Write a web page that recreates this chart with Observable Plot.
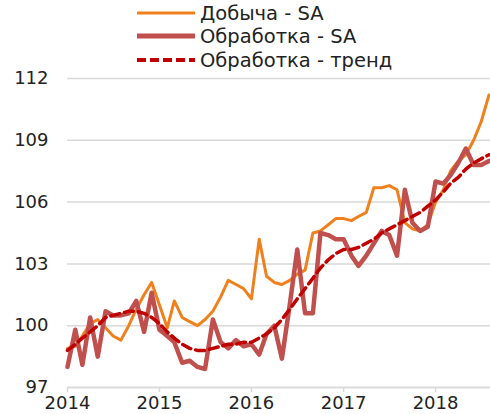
<!DOCTYPE html>
<html><head><meta charset="utf-8">
<script src="https://cdn.jsdelivr.net/npm/d3@7"></script>
<script src="https://cdn.jsdelivr.net/npm/@observablehq/plot@0.6"></script>
<style>
body{margin:0;background:#fff;font-family:"DejaVu Sans",sans-serif;}
#legend{position:relative;height:70px;width:490px;}
.row{position:absolute;left:137px;height:22px;display:flex;align-items:center;}
.row span{margin-left:5px;font-size:19.5px;color:#222;white-space:nowrap;}
</style></head>
<body>
<div id="legend"></div>
<div id="chart"></div>
<script>
// Series (monthly, Jan 2014 .. Aug 2018)
const startMonth = "2014-01";
const mining = [98.9,99.0,99.5,100.1,100.3,99.9,99.5,99.3,100.0,100.8,101.5,102.1,
  101.0,99.9,101.2,100.4,100.2,100.0,100.3,100.7,101.4,102.2,102.0,101.8,
  101.3,104.2,102.4,102.1,102.0,102.2,102.5,102.7,104.5,104.6,104.9,105.2,
  105.2,105.1,105.3,105.5,106.7,106.7,106.8,106.6,105.0,104.7,104.6,104.9,
  106.0,106.6,107.5,108.0,108.3,109.0,109.9,111.2];
const manufSA = [98.0,99.8,98.1,100.4,98.5,100.7,100.5,100.5,100.6,101.2,99.7,101.6,
  99.8,99.5,99.2,98.2,98.3,98.0,97.9,100.3,99.2,98.9,99.3,99.0,
  99.1,98.6,99.6,100.0,98.4,101.0,103.7,100.6,100.6,104.5,104.4,104.2,
  104.2,103.4,102.9,103.4,104.0,104.6,104.4,103.4,106.6,105.0,104.6,104.8,
  107.0,106.9,107.3,107.9,108.6,107.8,107.8,108.0];
const manufTrend = [98.8,99.1,99.4,99.7,100.0,100.4,100.5,100.6,100.7,100.7,100.6,100.4,
  100.1,99.7,99.4,99.1,98.9,98.8,98.8,98.9,99.0,99.1,99.1,99.2,
  99.2,99.4,99.6,99.9,100.3,100.8,101.3,101.8,102.3,102.8,103.2,103.5,
  103.7,103.7,103.8,104.0,104.2,104.5,104.7,104.9,105.1,105.3,105.5,105.8,
  106.1,106.5,106.9,107.2,107.6,107.9,108.1,108.3];
const seriesNames = ["Добыча - SA","Обработка - SA","Обработка - тренд"];
const yTicks = [97,100,103,106,109,112];
const xTickYears = [2014,2015,2016,2017,2018];

const colors = ["#F0801C","#C0504D","#C00000"];
const start = d3.utcParse("%Y-%m")(startMonth);
const toRows = (vals) => vals.map((v,i)=>({date:d3.utcMonth.offset(start,i), value:v}));
const d0 = toRows(mining), d1 = toRows(manufSA), d2 = toRows(manufTrend);
const xEnd = d3.utcDay.offset(d3.utcMonth.offset(start, mining.length-1), 6);

// Legend
const leg = document.getElementById("legend");
const styles = [
  {w:3, dash:null},
  {w:5, dash:null},
  {w:4, dash:"9,4"}
];
const tops = [2,25,49];
seriesNames.forEach((n,k)=>{
  const r = document.createElement("div");
  r.className="row"; r.style.top = tops[k]+"px";
  const s = styles[k];
  r.innerHTML = `<svg width="58" height="22"><line x1="0" x2="58" y1="11" y2="11" stroke="${colors[k]}" stroke-width="${s.w}" ${s.dash?`stroke-dasharray="${s.dash}"`:""}/></svg><span>${n}</span>`;
  leg.appendChild(r);
});

const chart = Plot.plot({
  width: 490,
  height: 344,
  marginLeft: 67,
  marginRight: 0,
  marginTop: 8,
  marginBottom: 27,
  style: {fontFamily: "'DejaVu Sans', sans-serif", fontSize: "18px", color: "#222", background: "#fff", overflow: "visible"},
  x: {type: "utc", domain: [start, xEnd]},
  y: {domain: [97, 112]},
  marks: [
    Plot.gridY(yTicks, {stroke: "#d9d9d9", strokeOpacity: 1, strokeWidth: 1.5}),
    Plot.ruleY([97], {stroke: "#d9d9d9", strokeWidth: 1.5}),
    Plot.axisY(yTicks, {tickSize: 0, tickPadding: 19, fontSize: 18, fill: "#222", label: null}),
    Plot.axisX(xTickYears.map(y=>new Date(Date.UTC(y,0,1))), {tickSize: 5, stroke: "#d9d9d9", strokeWidth: 1.5, tickPadding: 4, tickFormat: "%Y", fontSize: 18, fill: "#222", label: null}),
    Plot.line(d0, {x: "date", y: "value", stroke: colors[0], strokeWidth: 3, strokeLinejoin: "round"}),
    Plot.line(d1, {x: "date", y: "value", stroke: colors[1], strokeWidth: 4.5, strokeLinejoin: "round"}),
    Plot.line(d2, {x: "date", y: "value", stroke: colors[2], strokeWidth: 3.5, strokeDasharray: "9,5"})
  ]
});
document.getElementById("chart").appendChild(chart);
</script>
</body></html>
